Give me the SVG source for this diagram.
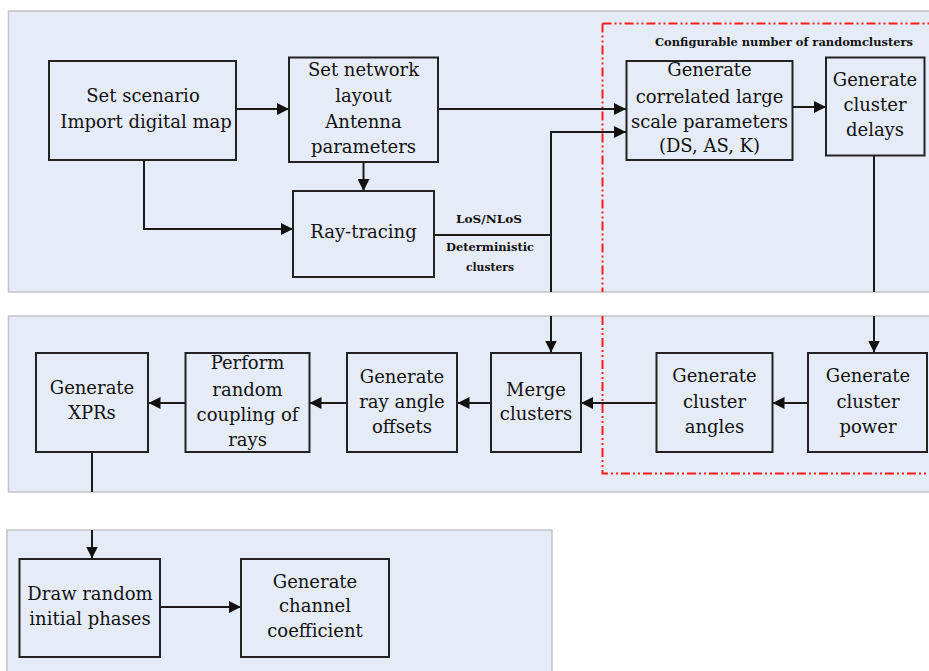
<svg xmlns="http://www.w3.org/2000/svg" width="929" height="671" viewBox="0 0 929 671">
<style>
.panel{fill:#e6ecf7;stroke:#c2c4c8;stroke-width:1.5}
.box{fill:none;stroke:#222;stroke-width:2}
.t{font-family:"DejaVu Serif","Liberation Serif",serif;font-size:18px;fill:#111;text-anchor:middle}
.s{font-family:"DejaVu Serif","Liberation Serif",serif;font-size:11px;font-weight:bold;fill:#111;text-anchor:middle}
.ln{fill:none;stroke:#1a1a1a;stroke-width:2}
.arr{fill:none;stroke:#1a1a1a;stroke-width:2;marker-end:url(#ah)}
.red{fill:none;stroke:#ff1a1a;stroke-width:2;stroke-dasharray:9,3,2,3,2,3}
</style>
<defs>
<marker id="ah" viewBox="0 0 12 12" refX="12" refY="6" markerWidth="12" markerHeight="12" markerUnits="userSpaceOnUse" orient="auto">
<path d="M0,0 L12,6 L0,12 Z" fill="#111"/>
</marker>
</defs>
<rect width="929" height="671" fill="#fff"/>
<g id="panels">
<rect class="panel" x="8.5" y="11" width="930" height="281"/>
<rect class="panel" x="8.5" y="316" width="930" height="176"/>
<rect class="panel" x="7" y="530" width="545" height="150"/>
</g>
<g id="random-cluster-region">
<path class="red" d="M602.5,23.5 H935"/>
<path class="red" d="M602.5,23.5 V292"/>
<path class="red" d="M602.5,316 V473.5 H935"/>
<text class="s" x="784" y="46" textLength="258" lengthAdjust="spacingAndGlyphs">Configurable number of randomclusters</text>
</g>
<g id="connectors">
<path class="arr" d="M236,109 H289"/>
<path class="arr" d="M363.5,162 V191"/>
<path class="arr" d="M144,160 V229 H293"/>
<path class="arr" d="M438,109 H626"/>
<path class="ln" d="M434,235 H551"/>
<path class="arr" d="M551,292 V132 H626"/>
<path class="arr" d="M551,316 V352.5"/>
<path class="arr" d="M793,107 H826"/>
<path class="ln" d="M874,156 V292"/>
<path class="arr" d="M874,316 V352.5"/>
<path class="arr" d="M808,403 H772.5"/>
<path class="arr" d="M656,403 H581"/>
<path class="arr" d="M491,403 H457.5"/>
<path class="arr" d="M347,403 H309.5"/>
<path class="arr" d="M185,403 H148.5"/>
<path class="ln" d="M92,452 V492"/>
<path class="arr" d="M92,530 V558.5"/>
<path class="arr" d="M160,607 H241"/>
<text class="s" x="489" y="223" font-size="12" textLength="66" lengthAdjust="spacingAndGlyphs">LoS/NLoS</text>
<text class="s" x="490" y="251" textLength="88" lengthAdjust="spacingAndGlyphs">Deterministic</text>
<text class="s" x="490" y="271" textLength="48" lengthAdjust="spacingAndGlyphs">clusters</text>
</g>
<g id="set-scenario">
<rect class="box" x="49" y="61" width="187" height="99"/>
<text class="t" x="143" y="102">Set scenario</text>
<text class="t" x="146" y="128">Import digital map</text>
</g>
<g id="set-network">
<rect class="box" x="289" y="57.5" width="149" height="104.5"/>
<text class="t" x="363.5" y="76">Set network</text>
<text class="t" x="363.5" y="102">layout</text>
<text class="t" x="363.5" y="128">Antenna</text>
<text class="t" x="363.5" y="153">parameters</text>
</g>
<g id="ray-tracing">
<rect class="box" x="293" y="191" width="141" height="86"/>
<text class="t" x="363.5" y="238">Ray-tracing</text>
</g>
<g id="gen-lsp">
<rect class="box" x="626.5" y="61" width="166" height="99"/>
<text class="t" x="709.5" y="76">Generate</text>
<text class="t" x="709.5" y="103">correlated large</text>
<text class="t" x="709.5" y="128">scale parameters</text>
<text class="t" x="709.5" y="152">(DS, AS, K)</text>
</g>
<g id="gen-delays">
<rect class="box" x="826" y="57.5" width="98.5" height="98"/>
<text class="t" x="875" y="86">Generate</text>
<text class="t" x="875" y="111">cluster</text>
<text class="t" x="875" y="136">delays</text>
</g>
<g id="gen-xpr">
<rect class="box" x="36" y="353" width="112" height="99"/>
<text class="t" x="92" y="394">Generate</text>
<text class="t" x="92" y="419">XPRs</text>
</g>
<g id="random-coupling">
<rect class="box" x="185.5" y="353" width="124" height="99"/>
<text class="t" x="247.5" y="369">Perform</text>
<text class="t" x="247.5" y="396">random</text>
<text class="t" x="247.5" y="421">coupling of</text>
<text class="t" x="247.5" y="446">rays</text>
</g>
<g id="ray-offsets">
<rect class="box" x="347" y="353" width="110" height="99"/>
<text class="t" x="402" y="383">Generate</text>
<text class="t" x="402" y="408">ray angle</text>
<text class="t" x="402" y="433">offsets</text>
</g>
<g id="merge">
<rect class="box" x="491" y="353" width="90" height="99"/>
<text class="t" x="536" y="396">Merge</text>
<text class="t" x="536" y="420">clusters</text>
</g>
<g id="cluster-angles">
<rect class="box" x="656.5" y="353" width="116" height="99"/>
<text class="t" x="714.5" y="382">Generate</text>
<text class="t" x="714.5" y="408">cluster</text>
<text class="t" x="714.5" y="433">angles</text>
</g>
<g id="cluster-power">
<rect class="box" x="808" y="353" width="119" height="99"/>
<text class="t" x="868" y="382">Generate</text>
<text class="t" x="868" y="408">cluster</text>
<text class="t" x="868" y="433">power</text>
</g>
<g id="initial-phases">
<rect class="box" x="19.5" y="559" width="140.5" height="98"/>
<text class="t" x="90" y="600">Draw random</text>
<text class="t" x="90" y="625">initial phases</text>
</g>
<g id="channel-coeff">
<rect class="box" x="241" y="559" width="148" height="98"/>
<text class="t" x="315" y="588">Generate</text>
<text class="t" x="315" y="612">channel</text>
<text class="t" x="315" y="637">coefficient</text>
</g>
</svg>
